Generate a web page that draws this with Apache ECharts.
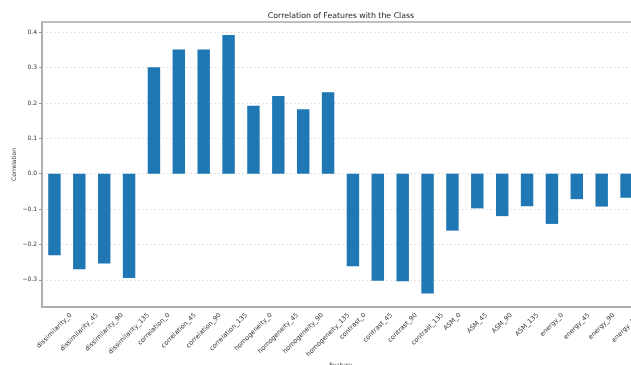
<!DOCTYPE html>
<html>
<head>
<meta charset="utf-8">
<script src="https://cdn.jsdelivr.net/npm/echarts@6/dist/echarts.min.js"></script>
<style>
  html, body { margin: 0; padding: 0; background: #fff; }
  #chart { width: 631px; height: 365px; }
</style>
</head>
<body>
<div id="chart"></div>
<script>
// Correlation of each texture feature with the class label
const features = [
  'dissimilarity_0', 'dissimilarity_45', 'dissimilarity_90', 'dissimilarity_135',
  'correlation_0', 'correlation_45', 'correlation_90', 'correlation_135',
  'homogeneity_0', 'homogeneity_45', 'homogeneity_90', 'homogeneity_135',
  'contrast_0', 'contrast_45', 'contrast_90', 'contrast_135',
  'ASM_0', 'ASM_45', 'ASM_90', 'ASM_135',
  'energy_0', 'energy_45', 'energy_90', 'energy_135'
];
const correlation = [
  -0.231, -0.270, -0.254, -0.295,
  0.301, 0.351, 0.351, 0.392,
  0.192, 0.220, 0.182, 0.230,
  -0.262, -0.303, -0.304, -0.339,
  -0.161, -0.098, -0.120, -0.092,
  -0.142, -0.072, -0.093, -0.068
];
const yTicks = [-0.3, -0.2, -0.1, 0.0, 0.1, 0.2, 0.3, 0.4];

const fmt = (v) => (v < 0 ? '\u2212' : '') + Math.abs(v).toFixed(1);

// x labels are rotated 45deg but centred under the tick (matplotlib style),
// so each label gets padding that pushes its centre down by half its rotated box
const labelFont = 6.5;
const ctx = document.createElement('canvas').getContext('2d');
ctx.font = labelFont + 'px "DejaVu Sans"';
const rich = {};
features.forEach((f, i) => {
  const w = ctx.measureText(f).width;
  const h = labelFont * 1.15;
  const p = (w + h) / 2;
  rich['l' + i] = { fontSize: labelFont, color: '#333', padding: [p, p, 0, 0] };
});

const chart = echarts.init(document.getElementById('chart'), null, { renderer: 'canvas' });
chart.setOption({
  animation: false,
  textStyle: { fontFamily: 'DejaVu Sans' },
  title: {
    text: 'Correlation of Features with the Class',
    left: 336,
    top: 7,
    textAlign: 'center',
    textStyle: { fontSize: 7.8, fontWeight: 'normal', color: '#222', fontFamily: 'DejaVu Sans' }
  },
  grid: {
    left: 42, top: 22, width: 597, height: 285,
    containLabel: false,
    outerBoundsMode: 'none',
    show: true, borderColor: '#aaa', borderWidth: 1.5, backgroundColor: 'transparent'
  },
  xAxis: {
    type: 'category',
    data: features,
    name: 'Feature',
    nameLocation: 'middle',
    nameGap: 55,
    nameMoveOverlap: false,
    nameTextStyle: { fontSize: 6, color: '#333', verticalAlign: 'top' },
    axisLine: { onZero: false, lineStyle: { color: '#aaa', width: 1.5 } },
    axisTick: { alignWithLabel: true, length: 3, lineStyle: { color: '#999' } },
    axisLabel: {
      rotate: 45, align: 'center', verticalAlign: 'middle',
      fontSize: labelFont, color: '#333', margin: 4.5, interval: 0,
      formatter: (val, idx) => '{l' + idx + '|' + val + '}',
      rich
    },
    splitLine: { show: false }
  },
  yAxis: {
    type: 'value',
    min: -0.377,
    max: 0.429,
    name: 'Correlation',
    nameLocation: 'middle',
    nameGap: 25,
    nameMoveOverlap: false,
    nameTextStyle: { fontSize: 6, color: '#333' },
    axisLine: { show: true, lineStyle: { color: '#aaa', width: 1.5 } },
    axisTick: { show: true, length: 3, customValues: yTicks, lineStyle: { color: '#999' } },
    axisLabel: { fontSize: 6, color: '#333', margin: 5, customValues: yTicks, formatter: fmt },
    splitLine: { show: true, lineStyle: { color: '#ddd', type: [2, 2], width: 0.8 } }
  },
  series: [{
    type: 'bar',
    data: correlation,
    barWidth: '50%',
    itemStyle: { color: '#1f77b4' }
  }]
});
</script>
</body>
</html>
